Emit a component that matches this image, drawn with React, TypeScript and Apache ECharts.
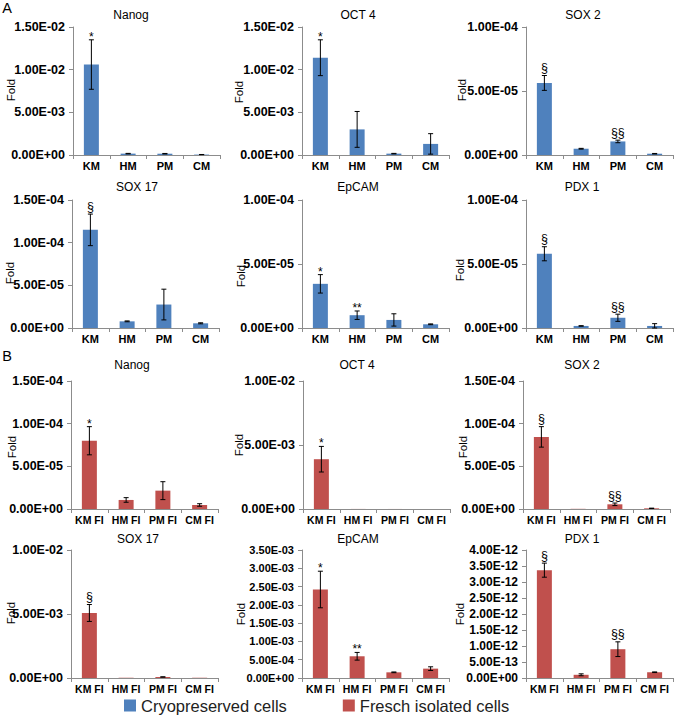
import React, { useEffect, useRef } from "react";
import * as echarts from "echarts";

// ---------- data ----------
const catsA = ["KM", "HM", "PM", "CM"];
const catsB = ["KM FI", "HM FI", "PM FI", "CM FI"];
const genes = ["Nanog", "OCT 4", "SOX 2", "SOX 17", "EpCAM", "PDX 1"];
const seriesNames = ["Cryopreserved cells", "Fresch isolated cells"];

// Cryopreserved cells (panel A)
const nanogA = [1.06e-2, 1.6e-4, 1.5e-4, 5e-5];
const nanogAErr = [2.9e-3, 3e-5, 3e-5, 1e-5];
const oct4A = [1.14e-2, 3.0e-3, 1.6e-4, 1.3e-3];
const oct4AErr = [2.1e-3, 2.1e-3, 3e-5, 1.2e-3];
const sox2A = [5.63e-5, 4.9e-6, 1.06e-5, 1.0e-6];
const sox2AErr = [5.8e-6, 3e-7, 1.0e-6, 2e-7];
const sox17A = [1.15e-4, 7.8e-6, 2.75e-5, 5.5e-6];
const sox17AErr = [1.85e-5, 5e-7, 1.8e-5, 6e-7];
const epcamA = [3.45e-5, 1.0e-5, 6.3e-6, 2.9e-6];
const epcamAErr = [7.2e-6, 3.3e-6, 4.8e-6, 3e-7];
const pdx1A = [5.8e-5, 1.6e-6, 8.0e-6, 1.6e-6];
const pdx1AErr = [5.5e-6, 2e-7, 2.8e-6, 1.8e-6];

// Fresh isolated cells (panel B)
const nanogB = [8.0e-5, 1.06e-5, 2.15e-5, 4.7e-6];
const nanogBErr = [1.65e-5, 2.7e-6, 1.05e-5, 1.5e-6];
const oct4B = [3.89e-3, 5e-6, 3e-6, 2e-6];
const oct4BErr = [1.0e-3, 0, 0, 0];
const sox2B = [8.45e-5, 2e-7, 5.5e-6, 8e-7];
const sox2BErr = [1.2e-5, 0, 1.5e-6, 2e-7];
const sox17B = [5.08e-3, 2e-5, 8e-5, 2e-5];
const sox17BErr = [6.6e-4, 0, 1e-5, 0];
const epcamB = [2.42e-3, 5.94e-4, 1.55e-4, 2.56e-4];
const epcamBErr = [5.0e-4, 1.05e-4, 1e-5, 5e-5];
const pdx1B = [3.37e-12, 1.0e-13, 9.0e-13, 1.8e-13];
const pdx1BErr = [2.2e-13, 3e-14, 2.3e-13, 1e-14];

// significance markers
const marksA = [
  ["*", "", "", ""],
  ["*", "", "", ""],
  ["§", "", "§§", ""],
  ["§", "", "", ""],
  ["*", "**", "", ""],
  ["§", "", "§§", ""],
];
const marksB = [
  ["*", "", "", ""],
  ["*", "", "", ""],
  ["§", "", "§§", ""],
  ["§", "", "", ""],
  ["*", "**", "", ""],
  ["§", "", "§§", ""],
];

// axis maxima and tick intervals
const axisMaxA = [1.5e-2, 1.5e-2, 1e-4, 1.5e-4, 1e-4, 1e-4];
const axisStepA = [5e-3, 5e-3, 5e-5, 5e-5, 5e-5, 5e-5];
const axisMaxB = [1.5e-4, 1e-2, 1.5e-4, 1e-2, 3.5e-3, 4e-12];
const axisStepB = [5e-5, 5e-3, 5e-5, 5e-3, 5e-4, 5e-13];

const valsA = [nanogA, oct4A, sox2A, sox17A, epcamA, pdx1A];
const errsA = [nanogAErr, oct4AErr, sox2AErr, sox17AErr, epcamAErr, pdx1AErr];
const valsB = [nanogB, oct4B, sox2B, sox17B, epcamB, pdx1B];
const errsB = [nanogBErr, oct4BErr, sox2BErr, sox17BErr, epcamBErr, pdx1BErr];

// ---------- layout ----------
const FONT = "'Liberation Sans', Arial, Helvetica, sans-serif";
const BLUE = "#4F81BD";
const RED = "#C0504D";
const rowTops = [27, 200, 381, 550];
const colLefts = [
  [73, 302, 526],
  [72, 302, 526],
  [71, 303, 523],
  [71, 302, 526],
];
const GRID_W = 147;
const GRID_H = 128;
const titlePos = [
  [131, 15], [358, 15], [583, 15],
  [137, 187], [358, 187], [582, 187],
  [132, 365], [357, 365], [582, 365],
  [138, 539], [358, 539], [582, 539],
];
const foldPos = [
  [11, 90], [239, 92], [462, 90],
  [10, 273], [241, 276], [460, 270],
  [12, 447], [239, 445], [463, 447],
  [11, 613], [241, 614], [460, 614],
];
const tickFont = [12.5, 12.5, 12.5, 12.5, 12.5, 12.5, 12.5, 12.5, 12.5, 12.5, 11, 12];

function sci(v: number): string {
  if (v === 0) return "0.00E+00";
  let e = Math.floor(Math.log10(Math.abs(v)) + 1e-9);
  let ms = (v / Math.pow(10, e)).toFixed(2);
  if (ms === "10.00") {
    e += 1;
    ms = "1.00";
  }
  const ea = Math.abs(e);
  return `${ms}E${e < 0 ? "-" : "+"}${ea < 10 ? "0" + ea : ea}`;
}

function buildOption() {
  const grids: any[] = [];
  const xAxes: any[] = [];
  const yAxes: any[] = [];
  const series: any[] = [];
  const graphics: any[] = [];

  for (let p = 0; p < 12; p++) {
    const isB = p >= 6;
    const g = p % 6;
    const row = Math.floor(p / 3);
    const col = p % 3;
    const vals = isB ? valsB[g] : valsA[g];
    const errs = isB ? errsB[g] : errsA[g];
    const marks = isB ? marksB[g] : marksA[g];
    const cats = isB ? catsB : catsA;
    const color = isB ? RED : BLUE;

    grids.push({
      left: colLefts[row][col],
      top: rowTops[row],
      width: GRID_W,
      height: GRID_H,
      containLabel: false,
    });
    xAxes.push({
      type: "category",
      gridIndex: p,
      data: cats,
      boundaryGap: true,
      axisLine: { lineStyle: { color: "#8c8c8c", width: 1 } },
      axisTick: { show: true, length: 4, lineStyle: { color: "#8c8c8c" } },
      axisLabel: {
        interval: 0,
        margin: 5,
        color: "#000",
        fontWeight: "bold",
        fontFamily: FONT,
        fontSize: isB ? 10.5 : 11,
      },
      splitLine: { show: false },
    });
    yAxes.push({
      type: "value",
      gridIndex: p,
      min: 0,
      max: isB ? axisMaxB[g] : axisMaxA[g],
      interval: isB ? axisStepB[g] : axisStepA[g],
      axisLine: { show: true, lineStyle: { color: "#8c8c8c", width: 1 } },
      axisTick: { show: true, length: 4, lineStyle: { color: "#8c8c8c" } },
      axisLabel: {
        margin: 8,
        color: "#000",
        fontWeight: "bold",
        fontFamily: FONT,
        fontSize: tickFont[p],
        formatter: (v: number) => sci(v),
      },
      splitLine: { show: false },
    });
    series.push({
      type: "bar",
      name: isB ? seriesNames[1] : seriesNames[0],
      xAxisIndex: p,
      yAxisIndex: p,
      data: vals,
      barWidth: 15,
      itemStyle: { color },
    });
    series.push({
      type: "custom",
      xAxisIndex: p,
      yAxisIndex: p,
      data: vals.map((v, i) => [i, v, errs[i]]),
      z: 5,
      renderItem: (params: any, api: any) => {
        const idx = api.value(0);
        const v = api.value(1);
        const e = api.value(2);
        const top = api.coord([idx, v + e]);
        const bot = api.coord([idx, Math.max(0, v - e)]);
        const children: any[] = [];
        const st = { stroke: "#000", lineWidth: 1 };
        if (e > 0) {
          children.push({ type: "line", shape: { x1: top[0], y1: top[1], x2: bot[0], y2: bot[1] }, style: st });
          children.push({ type: "line", shape: { x1: top[0] - 2.5, y1: top[1], x2: top[0] + 2.5, y2: top[1] }, style: st });
          children.push({ type: "line", shape: { x1: bot[0] - 2.5, y1: bot[1], x2: bot[0] + 2.5, y2: bot[1] }, style: st });
        }
        const m = marks[params.dataIndex];
        if (m) {
          const isStar = m.indexOf("*") >= 0;
          children.push({
            type: "text",
            x: top[0],
            y: top[1] - (isStar ? -3 : 1),
            style: {
              text: m,
              fill: "#000",
              fontFamily: FONT,
              fontSize: isStar ? 12 : 12.5,
              align: "center",
              verticalAlign: "bottom",
            },
          });
        }
        return { type: "group", children };
      },
    });

    graphics.push({
      type: "text",
      x: titlePos[p][0],
      y: titlePos[p][1],
      style: {
        text: genes[g],
        fill: "#000",
        fontFamily: FONT,
        fontSize: 12,
        align: "center",
        verticalAlign: "middle",
      },
    });
    graphics.push({
      type: "text",
      x: foldPos[p][0],
      y: foldPos[p][1],
      rotation: Math.PI / 2,
      style: {
        text: "Fold",
        fill: "#000",
        fontFamily: FONT,
        fontSize: 11.5,
        align: "center",
        verticalAlign: "middle",
      },
    });
  }

  graphics.push({
    type: "text",
    x: 7,
    y: 8,
    style: { text: "A", fill: "#000", fontFamily: FONT, fontSize: 14.5, align: "center", verticalAlign: "middle" },
  });
  graphics.push({
    type: "text",
    x: 7,
    y: 356,
    style: { text: "B", fill: "#000", fontFamily: FONT, fontSize: 14.5, align: "center", verticalAlign: "middle" },
  });

  return {
    animation: false,
    backgroundColor: "#fff",
    grid: grids,
    xAxis: xAxes,
    yAxis: yAxes,
    series,
    graphic: graphics,
    legend: {
      data: [
        { name: seriesNames[0], icon: "rect" },
        { name: seriesNames[1], icon: "rect" },
      ],
      left: 124,
      top: 697,
      padding: 0,
      itemWidth: 12,
      itemHeight: 12,
      itemGap: 56,
      selectedMode: false,
      textStyle: { fontFamily: FONT, fontSize: 16.5, color: "#222" },
    },
  };
}

export default function App() {
  const ref = useRef<HTMLDivElement>(null);
  useEffect(() => {
    if (!ref.current) return;
    const chart = echarts.init(ref.current, undefined, { renderer: "svg" });
    chart.setOption(buildOption() as any);
    return () => chart.dispose();
  }, []);
  return (
    <div
      ref={ref}
      style={{ position: "absolute", left: 0, top: 0, width: 675, height: 719, background: "#fff" }}
    />
  );
}
